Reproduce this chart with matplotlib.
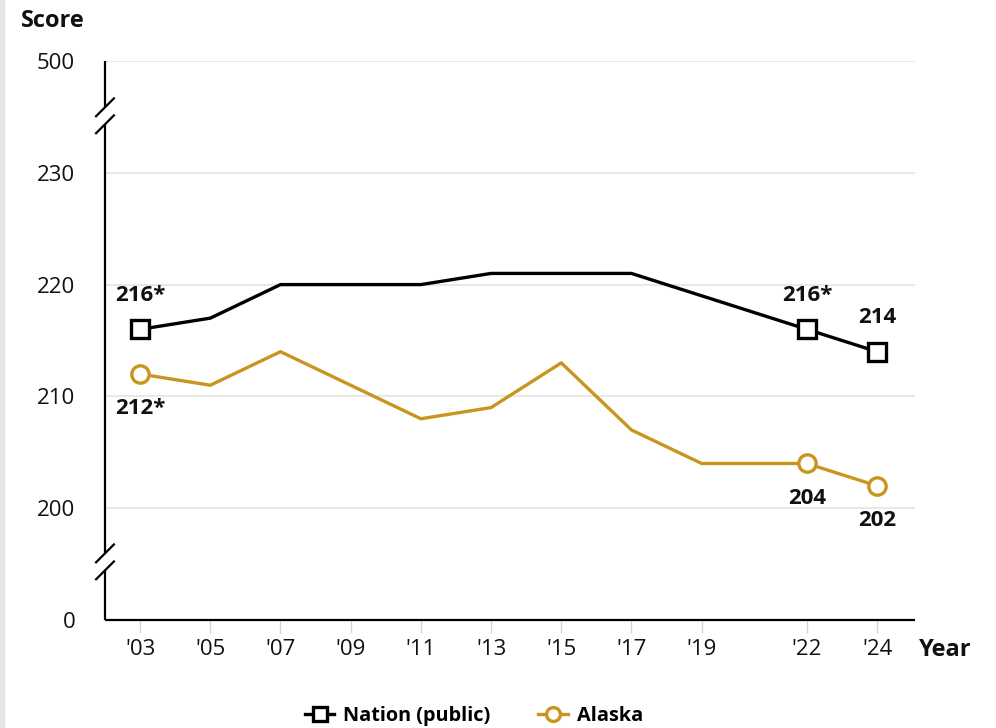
import matplotlib
matplotlib.use("Agg")
import matplotlib.pyplot as plt
from matplotlib.lines import Line2D
from matplotlib.patches import Rectangle

plt.rcParams['font.family'] = ['Open Sans', 'DejaVu Sans']

years = [2003, 2005, 2007, 2009, 2011, 2013, 2015, 2017, 2019, 2022, 2024]
nation = [216, 217, 220, 220, 220, 221, 221, 221, 219, 216, 214]
alaska = [212, 211, 214, 211, 208, 209, 213, 207, 204, 204, 202]
marked_years = [2003, 2022, 2024]
nation_labels = {2003: "216*", 2022: "216*", 2024: "214"}
alaska_labels = {2003: "212*", 2022: "204", 2024: "202"}
xtick_labels = ["'03", "'05", "'07", "'09", "'11", "'13", "'15", "'17", "'19", "'22", "'24"]
ytick_values = [0, 200, 210, 220, 230, 500]
# axis positions for the broken scale: 0 sits one step below 200, 500 one step above 230
ytick_pos = [190, 200, 210, 220, 230, 240]

NAT_C = "#000000"
AK_C = "#C8961E"
GRID_C = "#e6e6e6"

W, H = 996, 728
fig = plt.figure(figsize=(W / 100, H / 100), dpi=100)
fig.patches.append(Rectangle((0, 0), 4 / W, 1, transform=fig.transFigure,
                             color="#e6e6e6", zorder=0))
ax = fig.add_axes([105 / W, 1 - 620 / H, (915 - 105) / W, (620 - 61) / H])
ax.set_xlim(2002.0, 2025.08)
ax.set_ylim(190, 240)

for s in ax.spines.values():
    s.set_visible(False)

# grid lines
for p in ytick_pos[1:]:
    ax.axhline(p, color=GRID_C, lw=1.3, zorder=1)

ax.set_yticks(ytick_pos)
ax.set_yticklabels([str(v) for v in ytick_values])
ax.tick_params(axis='y', length=0, pad=21.5, labelsize=16, labelcolor="#111111")
ax.set_xticks(years)
ax.set_xticklabels(xtick_labels)
ax.tick_params(axis='x', length=9.5, width=1, color="#ccd6eb", pad=4,
               labelsize=16, labelcolor="#111111")

# lines
ax.plot(years, nation, color=NAT_C, lw=2.4, zorder=3)
ax.plot(years, alaska, color=AK_C, lw=2.4, zorder=3)
mx = [years.index(y) for y in marked_years]
ax.plot([years[i] for i in mx], [nation[i] for i in mx], ls='none', marker='s',
        ms=13.5, mfc='white', mec=NAT_C, mew=2.4, zorder=4)
ax.plot([years[i] for i in mx], [alaska[i] for i in mx], ls='none', marker='o',
        ms=12.5, mfc='white', mec=AK_C, mew=2.4, zorder=4)

# value labels
for y, t in nation_labels.items():
    v = nation[years.index(y)]
    ax.annotate(t, (y, v), xytext=(0, 24.5), textcoords='offset points',
                ha='center', va='center', fontsize=16, fontweight='bold', color="#111111")
for y, t in alaska_labels.items():
    v = alaska[years.index(y)]
    ax.annotate(t, (y, v), xytext=(0, -25.0), textcoords='offset points',
                ha='center', va='center', fontsize=16, fontweight='bold', color="#111111")

# axis lines with break marks (drawn in display pixels)
def disp(x, y):
    return ax.transData.transform((x, y))

x0 = ax.get_xlim()[0]
ytop = disp(x0, 240)
ybot = disp(x0, 190)
xr = disp(ax.get_xlim()[1], 190)
brk_top = disp(x0, 235.1)
brk_bot = disp(x0, 195.2)
gap = 8.5
lw_ax = 1.6

def seg(xa, ya, xb, yb):
    fig.add_artist(Line2D([xa, xb], [ya, yb], transform=None, color='black',
                          lw=lw_ax, solid_capstyle='butt', zorder=5))

xs = ytop[0]
seg(xs, ytop[1], xs, brk_top[1] + gap)
seg(xs, brk_top[1] - gap, xs, brk_bot[1] + gap)
seg(xs, brk_bot[1] - gap, xs, ybot[1])
seg(ybot[0] - 0.5, ybot[1], xr[0], xr[1])
for b in (brk_top, brk_bot):
    for off in (gap, -gap):
        cy = b[1] + off
        seg(xs - 9.7, cy - 9.7, xs + 9.7, cy + 9.7)

# axis titles
fig.text(21 / W, 1 - 21 / H, "Score", ha='left', va='center', fontsize=17,
         fontweight='bold', color="#111111")
fig.text(919 / W, 1 - 650 / H, "Year", ha='left', va='center', fontsize=17,
         fontweight='bold', color="#111111")

# legend
handles = [
    Line2D([], [], color=NAT_C, lw=2.4, marker='s', ms=10, mfc='white', mec=NAT_C, mew=2.4),
    Line2D([], [], color=AK_C, lw=2.4, marker='o', ms=10, mfc='white', mec=AK_C, mew=2.4),
]
fig.legend(handles, ["Nation (public)", "Alaska"], loc='center',
           bbox_to_anchor=(474 / W, 1 - 716 / H), ncol=2, frameon=False,
           handlelength=1.5, columnspacing=2.4, handletextpad=0.45,
           prop={'weight': 'bold', 'size': 14.3})

fig.savefig("out.png", dpi=100)
